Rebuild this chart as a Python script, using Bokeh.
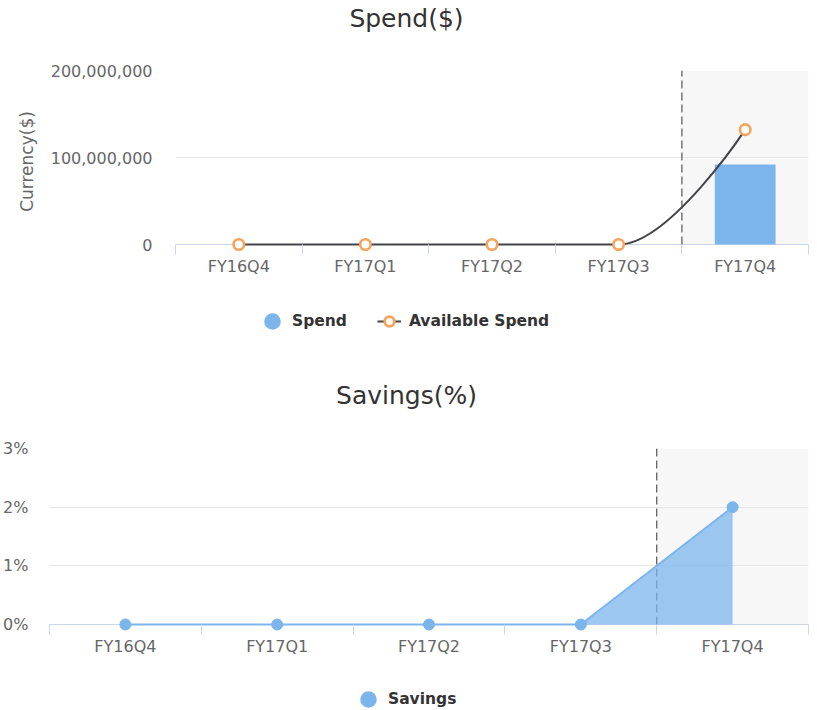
from bokeh.plotting import figure
from bokeh.models import (Range1d, FixedTicker, NumeralTickFormatter, PrintfTickFormatter,
                          BoxAnnotation, Span, Label, Legend, LegendItem)
from bokeh.embed import file_html
from bokeh.resources import INLINE

# ---------------- data ----------------
categories = ["FY16Q4", "FY17Q1", "FY17Q2", "FY17Q3", "FY17Q4"]
spend = [0, 0, 0, 0, 92_000_000]
available_spend = [0, 0, 0, 0, 132_000_000]
savings_pct = [0, 0, 0, 0, 2.0]
spend_ticks = [0, 100_000_000, 200_000_000]
savings_ticks = [0, 1, 2, 3]
highlight_category = "FY17Q4"

# ---------------- style ----------------
FONT = "DejaVu Sans"
BLUE = "#7cb5ec"
DARK = "#434348"
ORANGE = "#f7a35c"
GRID = "#e6e6e6"
AXIS = "#ccd6eb"
LABEL = "#666666"
TITLE = "#333333"
DASH = "#606060"
W = 816
EXT = 8  # pixels of frame below the zero line (so markers on 0 are not clipped)
NAN = float("nan")  # legend keys carry no visible point

xs = list(range(len(categories)))
hi = categories.index(highlight_category)


def hc_spline(px, py, smoothing=1.5):
    """Highcharts-style spline control points -> list of bezier segments."""
    n = len(px)
    right = [None] * n
    left = [None] * n
    den = smoothing + 1
    for i in range(1, n - 1):
        x, y = px[i], py[i]
        lx, ly = px[i - 1], py[i - 1]
        nx, ny = px[i + 1], py[i + 1]
        lcx = (smoothing * x + lx) / den
        lcy = (smoothing * y + ly) / den
        rcx = (smoothing * x + nx) / den
        rcy = (smoothing * y + ny) / den
        corr = 0.0
        if rcx != lcx:
            corr = (rcy - lcy) * (rcx - x) / (rcx - lcx) + y - rcy
        lcy += corr
        rcy += corr
        if lcy > ly and lcy > y:
            lcy = max(ly, y); rcy = 2 * y - lcy
        elif lcy < ly and lcy < y:
            lcy = min(ly, y); rcy = 2 * y - lcy
        if rcy > ny and rcy > y:
            rcy = max(ny, y); lcy = 2 * y - rcy
        elif rcy < ny and rcy < y:
            rcy = min(ny, y); lcy = 2 * y - rcy
        left[i] = (lcx, lcy)
        right[i] = (rcx, rcy)
    seg = dict(x0=[], y0=[], x1=[], y1=[], cx0=[], cy0=[], cx1=[], cy1=[])
    for i in range(1, n):
        c0 = right[i - 1] or (px[i - 1], py[i - 1])
        c1 = left[i] or (px[i], py[i])
        seg["x0"].append(px[i - 1]); seg["y0"].append(py[i - 1])
        seg["x1"].append(px[i]); seg["y1"].append(py[i])
        seg["cx0"].append(c0[0]); seg["cy0"].append(c0[1])
        seg["cx1"].append(c1[0]); seg["cy1"].append(c1[1])
    return seg


def style(p, yticks):
    n = len(categories)
    p.xaxis.ticker = FixedTicker(ticks=xs, minor_ticks=[i - 0.5 for i in range(n + 1)])
    p.xaxis.major_label_overrides = {i: c for i, c in enumerate(categories)}
    p.xaxis.axis_line_color = None
    p.xaxis.major_tick_line_color = None
    p.xaxis.major_tick_in = 0
    p.xaxis.major_tick_out = 0
    p.xaxis.minor_tick_line_color = AXIS
    p.xaxis.minor_tick_in = EXT
    p.xaxis.minor_tick_out = 10 - EXT
    p.xaxis.major_label_text_font = FONT
    p.xaxis.major_label_text_font_size = "16px"
    p.xaxis.major_label_text_color = LABEL
    p.xaxis.major_label_standoff = 2
    p.yaxis.ticker = FixedTicker(ticks=yticks)
    p.yaxis.axis_line_color = None
    p.yaxis.major_tick_line_color = None
    p.yaxis.major_tick_in = 0
    p.yaxis.major_tick_out = 0
    p.yaxis.minor_tick_line_color = None
    p.yaxis.major_label_text_font = FONT
    p.yaxis.major_label_text_font_size = "16px"
    p.yaxis.major_label_text_color = LABEL
    p.xgrid.visible = False
    p.ygrid.grid_line_color = GRID
    p.outline_line_color = None
    p.add_layout(BoxAnnotation(left=hi - 0.5, right=hi + 0.5, bottom=0,
                               fill_color="#f7f7f7", fill_alpha=1, line_color=None,
                               level="image"))
    p.add_layout(Span(location=0, dimension="width", line_color=AXIS, line_width=1,
                      level="underlay"))


def chart(H, T, B, L, R, ymax):
    frame_h = H - T - B
    return figure(width=W, height=H, output_backend="svg", toolbar_location=None,
                  x_range=Range1d(-0.5, len(categories) - 0.5),
                  y_range=Range1d(-ymax * EXT / (frame_h - EXT), ymax),
                  min_border_left=L, min_border_right=R, min_border_top=T,
                  min_border_bottom=B, title=None,
                  background_fill_color="white", border_fill_color="white")


def strip(H):
    s = figure(width=W, height=H, output_backend="svg", toolbar_location=None,
               x_range=Range1d(0, 1), y_range=Range1d(0, 1),
               x_axis_location=None, y_axis_location=None, title=None,
               min_border=0, min_border_left=0, min_border_right=0,
               min_border_top=0, min_border_bottom=0,
               background_fill_color="white", border_fill_color="white")
    s.outline_line_color = None
    s.grid.visible = False
    return s


def legend(items, loc):
    return Legend(items=items, location=loc, orientation="horizontal",
                  glyph_width=24, glyph_height=24, label_standoff=8, spacing=30,
                  padding=0, margin=0, border_line_color=None, background_fill_alpha=0,
                  label_text_font=FONT, label_text_font_style="bold",
                  label_text_font_size="15.5px", label_text_color=TITLE, label_height=24)


def title(text, x, y):
    return Label(x=x, y=y, x_units="screen", y_units="screen", text=text,
                 text_align="center", text_baseline="middle", text_font=FONT,
                 text_font_size="25px", text_color=TITLE)


# page rows (heights in px): title | spend chart | legend + title | savings chart | legend
HA, HB, HC, HD, HE = 46, 254, 120, 256, 33

# ---------------- row A: title "Spend($)" ----------------
rowA = strip(HA)
rowA.add_layout(title("Spend($)", 406, HA - 18))

# ---------------- row B: Spend chart ----------------
p1 = chart(HB, 70 - HA, HB - (244 + EXT - HA), 175, 8, spend_ticks[-1])
style(p1, spend_ticks)
p1.yaxis.formatter = NumeralTickFormatter(format="0,0")
p1.yaxis.major_label_standoff = 23
p1.yaxis.axis_label = "Currency($)"
p1.yaxis.axis_label_text_font = FONT
p1.yaxis.axis_label_text_font_size = "17px"
p1.yaxis.axis_label_text_font_style = "normal"
p1.yaxis.axis_label_text_color = LABEL
p1.yaxis.axis_label_standoff = 11

p1.segment(x0=[hi - 0.5], y0=[0], x1=[hi - 0.5], y1=[spend_ticks[-1]],
           line_color=DASH, line_width=1.3, line_dash="8 4")
p1.vbar(x=xs, top=spend, width=0.48, fill_color=BLUE, line_color=None)
p1.bezier(line_color=DARK, line_width=2, **hc_spline(xs, available_spend))
p1.scatter(x=xs, y=available_spend, size=10.5, marker="circle",
           fill_color="white", line_color=ORANGE, line_width=2.6)

# ---------------- row C: legend of Spend chart + title "Savings(%)" ----------------
rowC = strip(HC)
top_c = HA + HB
spend_key = rowC.scatter(x=[NAN], y=[NAN], marker="circle", fill_color=BLUE,
                         line_color=BLUE, line_width=7)
avail_key_line = rowC.line(x=[NAN, NAN], y=[NAN, NAN], line_color=DARK, line_width=2)
avail_key_pt = rowC.scatter(x=[NAN], y=[NAN], marker="circle", fill_color="white",
                            line_color=ORANGE, line_width=2.8)
rowC.add_layout(legend([LegendItem(label="Spend", renderers=[spend_key]),
                        LegendItem(label="Available Spend",
                                   renderers=[avail_key_line, avail_key_pt])],
                       (260, HC - (321 - top_c + 12))))
rowC.add_layout(title("Savings(%)", 406, HC - (395 - top_c)))

# ---------------- row D: Savings chart ----------------
top_d = HA + HB + HC
p2 = chart(HD, 448 - top_d, HD - (624 + EXT - top_d), 48, 8, savings_ticks[-1])
style(p2, savings_ticks)
p2.yaxis.formatter = PrintfTickFormatter(format="%d%%")
p2.yaxis.major_label_standoff = 21

p2.segment(x0=[hi - 0.5], y0=[0], x1=[hi - 0.5], y1=[savings_ticks[-1]],
           line_color=DASH, line_width=1.3, line_dash="8 4")
p2.varea(x=xs, y1=[0] * len(xs), y2=savings_pct, fill_color=BLUE, fill_alpha=0.75)
p2.line(x=xs, y=savings_pct, line_color=BLUE, line_width=2)
p2.scatter(x=xs, y=savings_pct, size=11, marker="circle", fill_color=BLUE, line_color=BLUE)

# ---------------- row E: legend of Savings chart ----------------
rowE = strip(HE)
top_e = top_d + HD
sav_key = rowE.scatter(x=[NAN], y=[NAN], marker="circle", fill_color=BLUE,
                       line_color=BLUE, line_width=7)
rowE.add_layout(legend([LegendItem(label="Savings", renderers=[sav_key])],
                       (356, HE - (699 - top_e + 12))))

open("out.html", "w").write(file_html([rowA, p1, rowC, p2, rowE], INLINE))
